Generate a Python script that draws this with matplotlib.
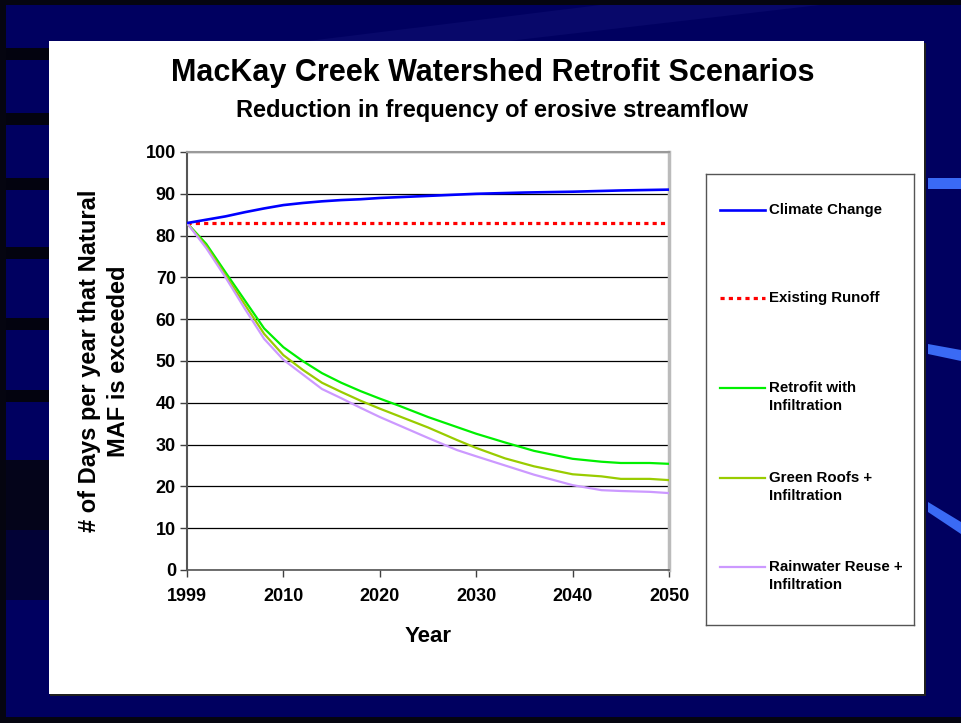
import matplotlib
matplotlib.use("Agg")
import matplotlib.pyplot as plt
from matplotlib.patches import Rectangle, Polygon
from matplotlib.lines import Line2D

plt.rcParams['font.family'] = ['Liberation Sans', 'DejaVu Sans']

# ---------------- data ----------------
tick_labels = ["1999", "2010", "2020", "2030", "2040", "2050"]
tick_pos = [0, 10, 20, 30, 40, 50]          # years since start (equal spacing on axis)

t_climate = [0, 2, 4, 6, 8, 10, 12, 14, 16, 18, 20, 25, 30, 35, 40, 45, 50]
climate = [83.0, 83.8, 84.6, 85.6, 86.5, 87.3, 87.8, 88.2, 88.5, 88.7, 89.0, 89.5, 90.0, 90.3, 90.5, 90.8, 91.0]

t_existing = [0, 50]
existing = [83.0, 83.0]

t_scen = [0, 2, 4, 6, 8, 10, 12, 14, 16, 18, 20, 22, 25, 28, 30, 33, 36, 40, 43, 45, 48, 50]
retrofit = [83.0, 78.0, 71.2, 64.5, 57.8, 53.3, 50.0, 47.1, 44.8, 42.8, 41.0, 39.3, 36.6, 34.2, 32.6,
            30.5, 28.5, 26.6, 25.9, 25.6, 25.6, 25.4]
green_roofs = [83.0, 77.5, 70.5, 63.5, 56.5, 51.4, 47.9, 44.8, 42.6, 40.5, 38.6, 36.8, 34.1, 31.1, 29.2,
               26.7, 24.8, 22.9, 22.4, 21.8, 21.8, 21.5]
rainwater = [83.0, 77.0, 70.0, 62.5, 55.3, 50.3, 46.8, 43.3, 41.1, 38.8, 36.6, 34.6, 31.6, 28.7, 27.2,
             25.0, 22.8, 20.3, 19.1, 18.9, 18.7, 18.4]

series_labels = ["Climate Change", "Existing Runoff", "Retrofit with\nInfiltration",
                 "Green Roofs +\nInfiltration", "Rainwater Reuse +\nInfiltration"]

title = "MacKay Creek Watershed Retrofit Scenarios"
subtitle = "Reduction in frequency of erosive streamflow"
xlabel = "Year"
ylabel = "# of Days per year that Natural\nMAF is exceeded"

# ---------------- figure ----------------
W, H = 961, 723
fig = plt.figure(figsize=(W / 100, H / 100), dpi=100)
fig.patch.set_facecolor("#00005C")


def fbox(x0, y0, x1, y1):
    """pixel box (top-left origin) -> figure fraction (left, bottom, w, h)"""
    return (x0 / W, 1 - y1 / H, (x1 - x0) / W, (y1 - y0) / H)


def frect(x0, y0, x1, y1, **kw):
    l, b, w, h = fbox(x0, y0, x1, y1)
    fig.patches.append(Rectangle((l, b), w, h, transform=fig.transFigure, **kw))


def fpoly(pts, **kw):
    fig.patches.append(Polygon([(x / W, 1 - y / H) for x, y in pts], closed=True,
                               transform=fig.transFigure, **kw))


# background decoration
frect(0, 0, W, H, facecolor="#000060", edgecolor="none", zorder=0)
fpoly([(300, 42), (600, 5), (820, 5), (500, 42)], facecolor="#08086A", edgecolor="none", zorder=0.5)
frect(0, 0, 6, H, facecolor="#050510", edgecolor="none", zorder=1)
frect(0, 0, W, 5, facecolor="#050510", edgecolor="none", zorder=1)
frect(0, 717, W, H, facecolor="#050510", edgecolor="none", zorder=1)
for yb in [48, 113, 178, 247, 318, 390]:
    frect(6, yb, 49, yb + 12, facecolor="#03030F", edgecolor="none", zorder=1)
frect(6, 460, 49, 530, facecolor="#04041A", edgecolor="none", zorder=1)
frect(6, 530, 49, 600, facecolor="#020236", edgecolor="none", zorder=1)
# right blue streaks
fpoly([(928, 178), (961, 178), (961, 189), (928, 189)], facecolor="#3A6AF5", edgecolor="none", zorder=1)
fpoly([(928, 344), (961, 350), (961, 361), (928, 354)], facecolor="#3A6AF5", edgecolor="none", zorder=1)
fpoly([(928, 502), (961, 522), (961, 534), (928, 512)], facecolor="#3A6AF5", edgecolor="none", zorder=1)

# white panel with shadow
frect(50, 43, 926, 696, facecolor="#202020", edgecolor="none", zorder=1.5)
frect(49, 41, 924, 694, facecolor="white", edgecolor="none", zorder=2)

# titles
fig.text(493 / W, 1 - 73 / H, title, ha="center", va="center", fontsize=22,
         fontweight="bold", color="black", zorder=5)
fig.text(492 / W, 1 - 110 / H, subtitle, ha="center", va="center", fontsize=17,
         fontweight="bold", color="black", zorder=5)

# ---------------- axes ----------------
ax = fig.add_axes(fbox(187, 152, 669, 570))
ax.set_zorder(3)
ax.patch.set_facecolor("white")

colors = ["#0000FF", "#FF0000", "#00F000", "#99CC00", "#CC99FF"]
widths = [1.9, 2.3, 1.6, 1.6, 1.6]
styles = ["-", (0, (1.3, 1.3)), "-", "-", "-"]
xs = [t_climate, t_existing, t_scen, t_scen, t_scen]
ys = [climate, existing, retrofit, green_roofs, rainwater]

for x, y, c, w, s in zip(xs, ys, colors, widths, styles):
    ax.plot(x, y, color=c, lw=w, linestyle=s, dash_capstyle="butt",
            solid_capstyle="butt", zorder=5 if c == "#0000FF" else 4)

ax.set_xlim(0, 50)
ax.set_ylim(0, 100)
ax.set_xticks(tick_pos)
ax.set_xticklabels(tick_labels)
ax.set_yticks(range(0, 101, 10))
ax.yaxis.grid(True, color="black", lw=0.9)
ax.set_axisbelow(True)

for lab in ax.get_xticklabels() + ax.get_yticklabels():
    lab.set_fontweight("bold")
    lab.set_fontsize(13)
ax.tick_params(axis="both", direction="out", length=5, width=1, color="#404040")
ax.tick_params(axis="x", pad=8)
ax.tick_params(axis="y", pad=3)

ax.spines["left"].set_color("#555555")
ax.spines["left"].set_linewidth(1.5)
ax.spines["bottom"].set_color("#555555")
ax.spines["bottom"].set_linewidth(1.2)
ax.spines["top"].set_color("#9A9A9A")
ax.spines["top"].set_linewidth(1.5)
ax.spines["right"].set_color("#BBBBBB")
ax.spines["right"].set_linewidth(2.5)

fig.text(428 / W, 1 - 636 / H, xlabel, ha="center", va="center", fontsize=16,
         fontweight="bold", zorder=5)
fig.text(104 / W, 1 - 361 / H, ylabel, ha="center", va="center", fontsize=17,
         fontweight="bold", rotation=90, linespacing=1.35, zorder=5)

# ---------------- legend box ----------------
lax = fig.add_axes(fbox(706, 174, 914, 625))
lax.set_zorder(4)
lax.set_xlim(706, 914)
lax.set_ylim(625, 174)
lax.set_xticks([])
lax.set_yticks([])
for s in lax.spines.values():
    s.set_color("#555555")
    s.set_linewidth(1.0)

entry_y = [210, 298, 388, 478, 567]
for c, w, s, lab, yy in zip(colors, widths, styles, series_labels, entry_y):
    ln = Line2D([720, 765], [yy, yy], color=c, lw=w, linestyle=s, dash_capstyle="butt")
    lax.add_line(ln)
    nlines = lab.count("\n") + 1
    lax.text(769, yy + 9 * (nlines - 1), lab, ha="left", va="center", fontsize=10.8,
             fontweight="bold", linespacing=1.3)

fig.savefig("out.png", dpi=100, facecolor=fig.get_facecolor())
